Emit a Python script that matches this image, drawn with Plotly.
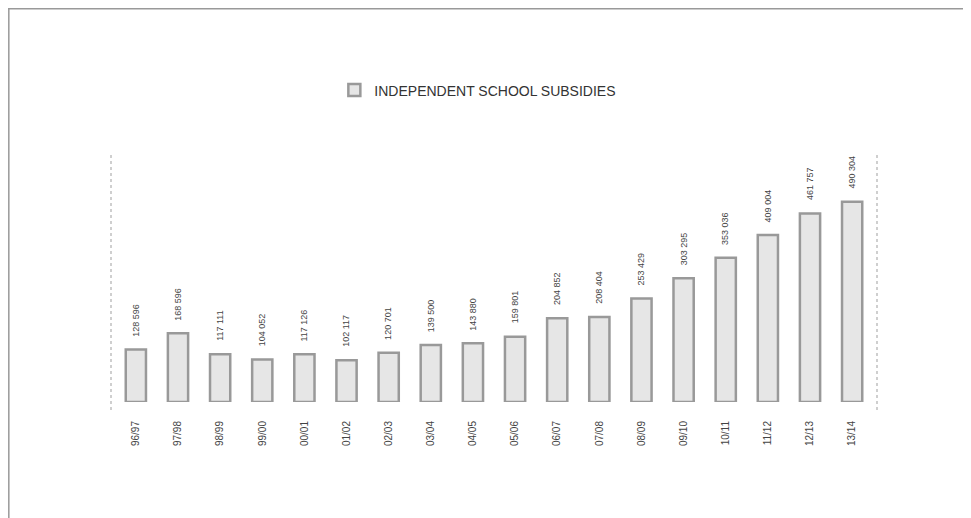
import plotly.graph_objects as go

years = ["96/97", "97/98", "98/99", "99/00", "00/01", "01/02", "02/03", "03/04", "04/05",
         "05/06", "06/07", "07/08", "08/09", "09/10", "10/11", "11/12", "12/13", "13/14"]
subsidies = [128596, 168596, 117111, 104052, 117126, 102117, 120701, 139500, 143880,
             159801, 204852, 208404, 253429, 303295, 353036, 409004, 461757, 490304]
series_name = "INDEPENDENT SCHOOL SUBSIDIES"

FONT = "Liberation Sans, Arial, sans-serif"

W, H = 971, 518
L, R, T, B = 103, 101.5, 147, 124
pw, ph = W - L - R, H - T - B

def px(x):
    return (x - L) / pw

def py(y):
    return (H - B - y) / ph

fig = go.Figure()
fig.add_trace(go.Bar(
    x=list(range(len(years))), y=subsidies, name=series_name,
    width=0.48,
    marker=dict(color="#e6e6e6", line=dict(color="#999999", width=2.5)),
    showlegend=True,
))

annotations = []
for i, v in enumerate(subsidies):
    s = f"{v:,}".replace(",", " ")
    annotations.append(dict(x=i, y=v, text=s, showarrow=False, textangle=-90,
                            xanchor="center", yanchor="bottom", yshift=11,
                            font=dict(family=FONT, size=9, color="#444444")))

shapes = [
    dict(type="line", xref="paper", yref="paper", x0=0, x1=0, y0=py(402), y1=1,
         line=dict(color="#b0b0b0", width=1.2, dash="dot")),
    dict(type="line", xref="paper", yref="paper", x0=1, x1=1, y0=py(402), y1=1,
         line=dict(color="#b0b0b0", width=1.2, dash="dot")),
    dict(type="line", xref="paper", yref="paper", x0=px(0), x1=px(975), y0=py(0.75), y1=py(0.75),
         line=dict(color="#999999", width=1.5)),
    dict(type="line", xref="paper", yref="paper", x0=px(0.75), x1=px(0.75), y0=py(0), y1=py(520),
         line=dict(color="#999999", width=1.5)),
]

fig.update_layout(
    width=W, height=H,
    margin=dict(l=L, r=R, t=T, b=B, pad=0),
    paper_bgcolor="white", plot_bgcolor="white",
    font=dict(family=FONT, color="#333333"),
    xaxis=dict(range=[-0.59, 17.59], tickmode="array", tickvals=list(range(len(years))),
               ticktext=years, tickangle=-90, showgrid=False, zeroline=False, showline=False,
               ticks="outside", ticklen=14, tickcolor="rgba(0,0,0,0)",
               tickfont=dict(family=FONT, size=10, color="#444444")),
    yaxis=dict(range=[0, 605000], visible=False, showgrid=False, zeroline=False),
    legend=dict(orientation="h", x=px(326.5), y=py(82.5), xanchor="left", yanchor="middle",
                font=dict(family=FONT, size=14, color="#333333"), bgcolor="rgba(0,0,0,0)"),
    annotations=annotations,
    shapes=shapes,
)

fig.write_html("out.html")
